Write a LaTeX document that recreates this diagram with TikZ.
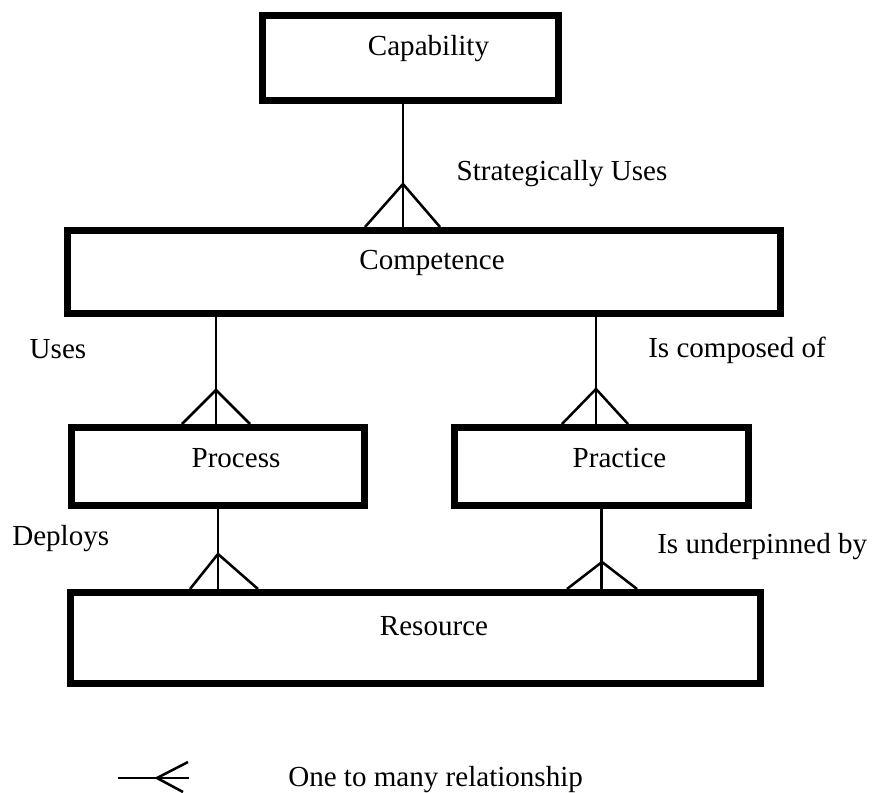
\documentclass[tikz,border=0pt]{standalone}
\usepackage{fontspec}
\setmainfont{Liberation Serif}
\usetikzlibrary{calc}
\begin{document}
\begin{tikzpicture}[x=0.75pt,y=-0.75pt,
  ent/.style={draw, line width=5.25pt, rectangle, inner sep=0pt},
  lbl/.style={font=\fontsize{21.8}{26}\selectfont, inner sep=0pt, anchor=base},
  lblw/.style={font=\fontsize{21.8}{26}\selectfont, inner sep=0pt, anchor=base west},
  rel/.style={line width=1.9pt, line join=miter},
  ]
\useasboundingbox[fill=white] (0,0) rectangle (872,793);

% entities
\node[ent, minimum width={296*0.75pt}, minimum height={85*0.75pt}] (cap) at (410.5,58) {};
\node[ent, minimum width={713*0.75pt}, minimum height={83*0.75pt}] (comp) at (424,272) {};
\node[ent, minimum width={293*0.75pt}, minimum height={78*0.75pt}] (proc) at (218,466.5) {};
\node[ent, minimum width={294*0.75pt}, minimum height={78*0.75pt}] (prac) at (601.5,466.5) {};
\node[ent, minimum width={690*0.75pt}, minimum height={91*0.75pt}] (res) at (415.5,638) {};

% entity names
\node[lbl] (tcap) at (428.5,55) {Capability};
\node[lbl] (tcomp) at (432,269) {Competence};
\node[lbl] (tproc) at (236,467) {Process};
\node[lbl] (tprac) at (619.5,467) {Practice};
\node[lbl] (tres) at (434,635) {Resource};

% relation labels
\node[lbl] (lsu) at (562,180) {Strategically Uses};
\node[lbl] (luses) at (58,358) {Uses};
\node[lblw] (lcomp) at (648,357) {Is composed of};
\node[lblw] (ldep) at (12,545) {Deploys};
\node[lblw] (lund) at (657,553) {Is underpinned by};
\node[lblw] (lleg) at (288,786) {One to many relationship};

% x positions
\coordinate (x1) at (403,0);
\coordinate (x1a) at (365,0);
\coordinate (x1b) at (440,0);
\coordinate (x2) at (216,0);
\coordinate (x2a) at (182,0);
\coordinate (x2b) at (250,0);
\coordinate (x3) at (596,0);
\coordinate (x3a) at (562,0);
\coordinate (x3b) at (628,0);
\coordinate (x4a) at (190,0);
\coordinate (x4b) at (258,0);
\coordinate (x5a) at (567,0);
\coordinate (x5b) at (637,0);

% Capability -> Competence
\coordinate (ap1) at (403,184);
\draw[rel] (x1 |- cap.south) -- (x1 |- comp.north);
\draw[rel] (x1a |- comp.north) -- (ap1) -- (x1b |- comp.north);

% Competence -> Process
\coordinate (ap2) at (216,390);
\draw[rel] (x2 |- comp.south) -- (x2 |- proc.north);
\draw[rel] (x2a |- proc.north) -- (ap2) -- (x2b |- proc.north);

% Competence -> Practice
\coordinate (ap3) at (596,389);
\draw[rel] (x3 |- comp.south) -- (x3 |- prac.north);
\draw[rel] (x3a |- prac.north) -- (ap3) -- (x3b |- prac.north);

% Process -> Resource
\coordinate (ap4) at (218,554);
\draw[rel] (proc.south) -- (proc.south |- res.north);
\draw[rel] (x4a |- res.north) -- (ap4) -- (x4b |- res.north);

% Practice -> Resource
\coordinate (ap5) at (602,562);
\draw[rel] (prac.south) -- (prac.south |- res.north);
\draw[rel] (x5a |- res.north) -- (ap5) -- (x5b |- res.north);

% legend
\coordinate (lg1) at (118,778);
\coordinate (lg2) at (189,778);
\coordinate (lgt) at (157,778);
\coordinate (lgu) at (188,762);
\coordinate (lgd) at (183,792);
\draw[rel] (lg1) -- (lg2);
\draw[rel] (lgu) -- (lgt) -- (lgd);
\end{tikzpicture}
\end{document}
